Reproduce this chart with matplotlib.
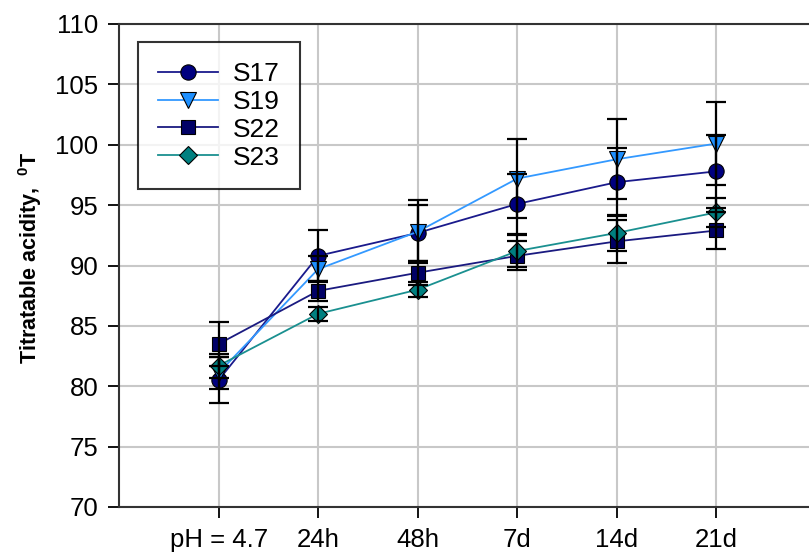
import numpy as np
import matplotlib.pyplot as plt

plt.rcParams['font.family'] = ['Liberation Sans', 'DejaVu Sans']
plt.rcParams['mathtext.fontset'] = 'custom'
plt.rcParams['mathtext.rm'] = 'Liberation Sans'
plt.rcParams['mathtext.bf'] = 'Liberation Sans:bold'

# Titratable acidity over storage time
times = ["pH = 4.7", "24h", "48h", "7d", "14d", "21d"]

s17 = [80.5, 90.8, 92.7, 95.1, 96.9, 97.8]
s19 = [81.1, 89.7, 92.8, 97.2, 98.8, 100.1]
s22 = [83.5, 87.9, 89.4, 90.8, 92.0, 92.9]
s23 = [81.7, 86.0, 88.0, 91.2, 92.7, 94.4]

s17_err = [1.9, 2.1, 2.3, 2.5, 2.8, 3.0]
s19_err = [1.3, 1.1, 2.6, 3.3, 3.3, 3.4]
s22_err = [1.8, 0.8, 1.0, 1.2, 1.8, 1.5]
s23_err = [1.0, 0.6, 0.6, 1.3, 1.5, 1.2]

fig = plt.figure(figsize=(8.09, 5.55), dpi=100)
ax = fig.add_axes([119/809, 48/555, 697/809, 483/555])

x = np.arange(1, len(times) + 1)

series = [
    ("S17", s17, s17_err, "o", "#000080", "#1a1a8c", 11),
    ("S19", s19, s19_err, "v", "#1e90ff", "#3399ff", 11),
    ("S22", s22, s22_err, "s", "#000066", "#1a1a80", 10),
    ("S23", s23, s23_err, "D", "#008080", "#1a9090", 9.5),
]

for name, vals, err, mk, mcol, lcol, ms in series:
    ax.plot(x, vals, color=lcol, lw=1.3, marker=mk, markersize=ms,
            markerfacecolor=mcol, markeredgecolor="black", markeredgewidth=0.8,
            label=name, zorder=3)
    ax.errorbar(x, vals, yerr=err, fmt="none", ecolor="black", elinewidth=1.6,
                capsize=7, capthick=1.6, zorder=4)

ax.set_xlim(0, 7)
ax.set_ylim(70, 110)
ax.set_yticks(np.arange(70, 111, 5))
ax.set_xticks(x)
ax.set_xticklabels(times)
ax.tick_params(axis="both", labelsize=18.5, direction="out", length=8, width=1.3, colors="black")
ax.tick_params(axis="x", pad=7)
ax.tick_params(axis="y", pad=7)

ax.grid(True, color="#c8c8c8", lw=1.5)
ax.set_axisbelow(True)
for side in ["left", "bottom", "top"]:
    ax.spines[side].set_linewidth(1.5)
    ax.spines[side].set_color("#333333")
ax.spines["right"].set_visible(False)

# y label: starts near pixel row 364 and reads upward
fig.text(30/809, (555 - 364)/555, r"Titratable acidity,  $^{\mathbf{0}}\mathbf{T}$",
         rotation=90, ha="center", va="bottom", fontsize=15.5, fontweight="bold")

leg = ax.legend(loc="upper left", bbox_to_anchor=(138/809, 1 - 42/555),
                bbox_transform=fig.transFigure, fontsize=19, frameon=True,
                fancybox=False, edgecolor="black", handlelength=2.3,
                labelspacing=0.15, borderpad=0.75, handletextpad=0.55,
                borderaxespad=0)
leg.get_frame().set_linewidth(1.5)

fig.savefig("out.png", dpi=100)
